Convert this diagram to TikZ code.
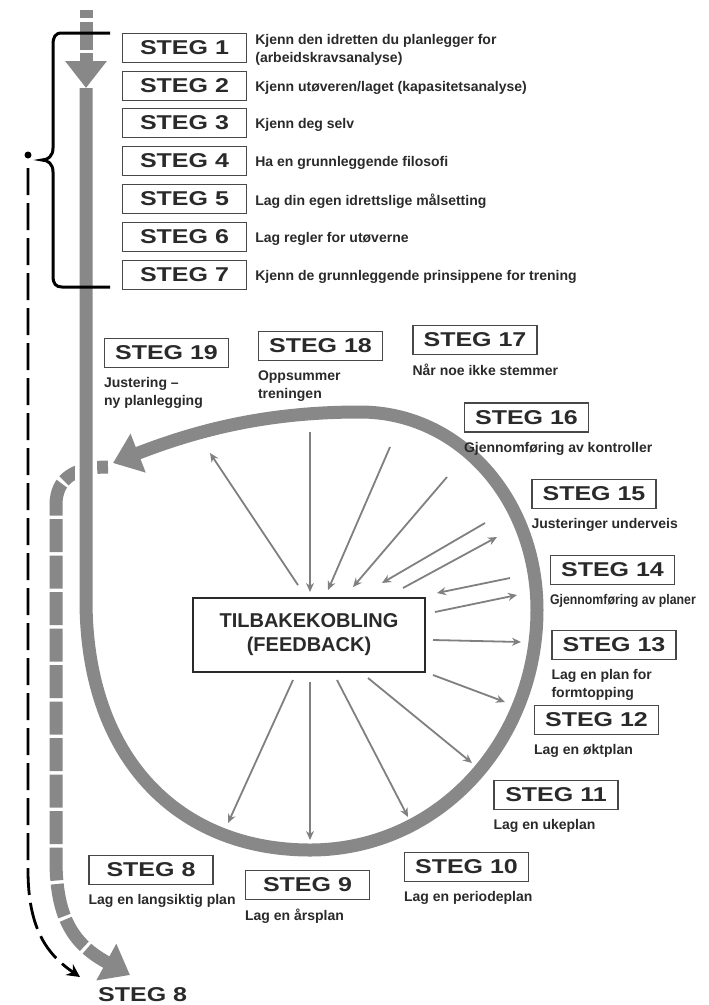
\documentclass[tikz,border=0pt]{standalone}
\usepackage{fontspec}
\setmainfont{Liberation Sans}
\newfontfamily\stegfont[FakeStretch=1.25]{Liberation Sans}
\newfontfamily\narrowfont[FakeStretch=0.88]{Liberation Sans}
\usetikzlibrary{arrows.meta,positioning}
\usepackage{xcolor}
\definecolor{loopgray}{RGB}{136,136,136}
\definecolor{spokegray}{RGB}{128,128,128}
\definecolor{inkdark}{RGB}{42,42,42}
\definecolor{boxline}{RGB}{72,72,72}

\begin{document}
\begin{tikzpicture}[
  x=1pt, y=-1pt,
  stegbox/.style={rectangle, draw=boxline, line width=1.3pt, fill=white, minimum width=124pt, minimum height=29pt, inner sep=0pt, text=inkdark, font=\stegfont\bfseries\fontsize{20}{20}\selectfont},
  steglabel/.style={inner sep=0pt, text=inkdark, font=\stegfont\bfseries\fontsize{20}{20}\selectfont},
  stegtext/.style={inner sep=0pt, align=left, text=inkdark, font=\bfseries\fontsize{14}{18}\selectfont},
  loopline/.style={draw=loopgray, line width=13pt},
  dashband/.style={draw=loopgray, line width=13pt, dash pattern=on 33pt off 3.5pt},
  bigtip/.style={-{Triangle[length=27pt,width=40pt]}},
  spoke/.style={draw=spokegray, line width=1.8pt},
  sp/.style={-{Stealth[length=9pt,width=8pt]}},
  ps/.style={{Stealth[length=9pt,width=8pt]}-},
  bracket/.style={draw=black, line width=3pt}
]
\useasboundingbox (0,0) rectangle (709,1005);
\fill[white] (0,0) rectangle (709,1005);

% feedback box in the middle of the loop
\node[rectangle, draw=inkdark, line width=2pt, minimum width=232pt, minimum height=74pt, align=center, text=inkdark,
  font=\bfseries\fontsize{20}{24}\selectfont] (fb) at (309,635) {TILBAKEKOBLING\\(FEEDBACK)};

% thin dashed way around
\coordinate (dotstart) at (28,155);
\coordinate (dashtop) at (28,168);
\coordinate (dashend) at (80,977);
\fill[black] (dotstart) circle (3.5pt);
\draw[draw=black, line width=2.8pt, dash pattern=on 27pt off 8pt, -{Stealth[length=13pt,width=13pt]}]
  (dashtop) -- (28,870) .. controls (28,930) and (48,955) .. (dashend);

% thick dashed way around
\coordinate (bandstart) at (108,467);
\coordinate (bandend) at (130,975);
\draw[dashband, dash phase=22pt, bigtip] (bandstart) .. controls (75,467) and (56,478) .. (56,505)
  -- (56,860) .. controls (56,920) and (75,945) .. (bandend);
\draw[white, line width=22pt] (86,445) -- (86,500);

% main line and loop
\coordinate (intop) at (86,10);
\coordinate (loopstart) at (86,88);
\coordinate (looptip) at (113,463);
\draw[loopline] (intop) -- (86,18);
\draw[loopline] (86,22) -- (86,50);
\draw[loopline, bigtip] (86,53) -- (loopstart);
\draw[loopline, bigtip] (loopstart) -- (86,600)
  .. controls (86,760) and (180,850) .. (310,850)
  .. controls (440,850) and (537,740) .. (537,610)
  .. controls (537,500) and (460,412) .. (360,412)
  .. controls (280,412) and (210,425) .. (looptip);

% brace over steg 1-7
\draw[bracket] (110,33) -- (62,33) .. controls (55,33) and (53,37) .. (53,45) -- (53,148)
  .. controls (53,156) and (48,160) .. (42,160) .. controls (48,160) and (53,164) .. (53,172)
  -- (53,276) .. controls (53,284) and (56,287) .. (62,287) -- (110,287);

% steg 1-7
\foreach \n/\y/\txt in {
  1/48/{Kjenn den idretten du planlegger for\\(arbeidskravsanalyse)},
  2/86/{Kjenn utøveren/laget (kapasitetsanalyse)},
  3/123/{Kjenn deg selv},
  4/161/{Ha en grunnleggende filosofi},
  5/199/{Lag din egen idrettslige målsetting},
  6/237/{Lag regler for utøverne},
  7/275/{Kjenn de grunnleggende prinsippene for trening}}
{
  \node[stegbox] (s\n) at (184.5,\y) {STEG \n};
  \node[stegtext, right=8pt of s\n, yshift=-2pt] (t\n) {\txt};
}

% steg 8-19 round the loop
\foreach \n/\x/\y/\txt in {
  8/151/870/{Lag en langsiktig plan},
  9/307.5/885/{Lag en årsplan},
  10/466.5/867/{Lag en periodeplan},
  11/556/795/{Lag en ukeplan},
  12/596.5/720/{Lag en øktplan},
  13/614/645/{Lag en plan for\\formtopping},
  14/612.5/570/{\narrowfont Gjennomføring av planer},
  15/594/494/{Justeringer underveis},
  16/526.5/417.5/{Gjennomføring av kontroller},
  17/475/340/{Når noe ikke stemmer},
  18/320.5/346/{Oppsummer\\treningen},
  19/166.5/353/{Justering –\\ny planlegging}}
{
  \node[stegbox] (s\n) at (\x,\y) {STEG \n};
  \node[stegtext, below=9pt of s\n.south west, anchor=north west] (t\n) {\txt};
}

\node[steglabel, anchor=base west] (s8end) at (98,1001) {STEG 8};

% spokes between feedback and loop
\foreach \i/\a/\b/\dir in {
  1/{298,585}/{210,453}/sp, 2/{310,592}/{310,432}/ps, 3/{328,590}/{390,447}/ps,
  4/{353,587}/{447,477}/ps, 5/{382,583}/{485,523}/ps, 6/{403,588}/{497,537}/sp,
  7/{437,593}/{510,578}/ps, 8/{435,612}/{517,595}/sp, 9/{433,640}/{521,642}/sp,
  10/{433,675}/{505,702}/sp, 11/{368,678}/{472,763}/sp, 12/{337,680}/{408,817}/sp,
  13/{310,682}/{310,840}/sp, 14/{293,680}/{228,823}/sp}
{
  \coordinate (in\i) at (\a);
  \coordinate (out\i) at (\b);
  \draw[spoke, \dir] (in\i) -- (out\i);
}
\end{tikzpicture}
\end{document}
